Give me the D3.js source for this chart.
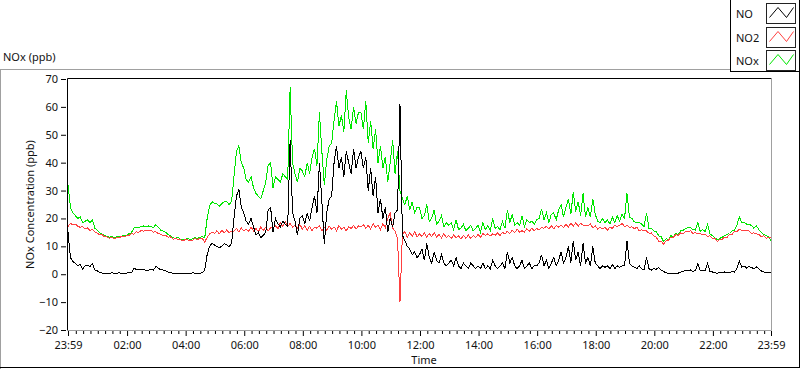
<!DOCTYPE html>
<html><head><meta charset="utf-8">
<script src="https://cdn.jsdelivr.net/npm/d3@7"></script>
<style>
html,body{margin:0;padding:0;background:#fff;}
svg text{font-family:"Noto Sans",sans-serif;font-size:11px;fill:#111;}
</style></head>
<body><svg id="c" width="800" height="369"></svg>
<script>
// ---- data (5-minute samples starting 23:59) ----
const seriesNames = ["NO", "NO2", "NOx"];
const seriesColors = ["#000000", "#ff4040", "#00e600"];
const yTicks = [-20,-10,0,10,20,30,40,50,60,70];
const xTickLabels = ["23:59","02:00","04:00","06:00","08:00","10:00","12:00","14:00","16:00","18:00","20:00","22:00","23:59"];

const NO = [
15,6,4.5,4,3,3.5,1.8,3,3.2,2.8,3.8,1.5,
1.2,0.6,0.4,0.3,0.4,0.3,0.5,0.3,0.4,0.5,0.3,0.4,
0.4,0.5,0.6,2.0,1.8,1.6,1.5,1.7,1.4,1.5,1.6,1.5,
2.8,2.2,1.6,1.5,1.2,0.8,0.5,0.4,0.3,0.4,0.3,0.4,
0.3,0.4,0.3,0.5,0.4,0.3,0.4,0.5,1.5,7,10,11,
10.5,10,9.5,10,11,10.5,9.8,11,20,28,30.5,24,
22,19,18,20,17,14,15,13,14,15,23,24,
15,20,18,17,19,18,17,48,22,19,14,20,
21,18,22,19,24,28,22,40,26,11,22,27,
28,40,46,38,42,35,44,40,36,45,38,42,
44,38,42,30,38,28,35,22,27,20,24,15,
20,17,22,23,61,14,12,10,9,7,8,6,
7,9,5,11,6,4,8,5,4,7,4,3,
4,5,3,6,3,2,4,3,2,4,3,2,
3,2,4,2,3,2,5,3,2,3,4,2,
8,4,6,3,2,3,5,2,3,4,2,3,
3,4,7,3,5,2,4,6,3,5,8,4,
6,10,4,12,5,8,3,11,4,6,3,10,
4,3,2,3,2.5,3,2,3.5,2,3,2.5,3,
3,12,4,3,2.5,2,3,2,1.5,6,2,1.5,
2,1.8,2.3,1.5,1,0.5,0.3,0.4,0.3,0.3,0.4,0.8,
1,1.3,1.2,1.5,1,1.3,3.8,1.2,1.5,1.3,4,1,
0.8,0.5,0.4,0.6,0.5,0.8,0.7,0.6,1,0.8,2,4.8,
2.5,3,2.2,2.8,2.4,2,2.6,2,1.2,0.8,0.7,0.5,
0.5];

const NO2 = [
17,18.3,17.6,18,17.2,16.8,17.1,16.2,16.6,15.7,16,15.2,
14.7,14.1,14.2,13.4,13.4,12.9,13.2,12.7,13.1,13.1,13.6,13.4,
13.8,13.9,14.5,14.4,15.2,15,15.7,15.4,15.8,15.6,15.7,15.1,
15.2,14.5,14.4,13.8,14,13.3,13.4,12.6,12.7,12.6,12.5,11.9,
12.4,12.3,12.2,12.1,13,12.3,13,12.8,11.5,13.2,14.4,15.2,
14.6,15.6,14.5,15.7,14.8,15.9,14.9,15.4,15.4,16.4,15.1,16.6,
15.6,16.2,15.4,16.9,15.5,16.4,15.2,17,15.6,16.9,15.5,16.7,
16.6,17.4,16.3,18.5,17,18.8,17.2,18.2,16.9,17.6,16.6,17.8,
16.2,17.3,15.7,17.2,15.6,16.9,16.5,17.3,15.6,16.9,15.7,17.3,
16.1,17,15.6,17.4,16.2,16.8,15.6,17.1,16.4,17.5,16.2,17.3,
17,17.8,16.5,17.6,16.2,18.1,16.8,17.6,16,18.2,16.7,20,
22,16.5,15.4,12.8,-10,14.4,15.3,13.2,14.9,13.6,15.3,13.4,
14.4,13.6,14.8,13.3,14.6,13.5,14.9,13.4,14.3,13,14.5,13.2,
13.9,12.8,14.1,13,13.8,12.6,13.9,12.9,14.1,12.8,13.9,13.2,
14.3,13.3,14.6,13.9,14.5,13.7,14.5,14,14.8,13.9,15,14.4,
15.4,14.6,15.8,14.9,16.1,15.1,15.6,15.1,16.3,15.3,16.5,15.5,
16.4,15.9,16.7,16.5,17.2,16.2,17.5,16.3,17.4,16.9,17.6,16.8,
17.9,16.8,18.3,17.2,18.5,17.2,18.2,17.6,17.6,17.4,18,16.7,
17.3,16.2,16.8,16.3,16.9,15.8,16.9,16.4,17.6,17.1,17.5,18.2,
17.1,17.5,16.8,17,16.3,16.9,15.6,15.9,15.6,15.5,14.7,14.8,
13.7,13.3,11.8,11.8,10.8,12,12.2,13.3,13.2,14.3,13.9,14.8,
14.5,15.3,15.2,15.6,14.7,14.9,14.5,14.5,14.2,14.3,13.5,13.8,
12.7,12.8,11.8,12.5,12.5,13.3,13.2,14.3,14.2,15.3,15.2,16.1,
15.7,15.8,15.5,15.5,14.7,14.8,14.5,14.3,13.5,13.8,12.9,13.2,
13];

const NOx = [
32,24,22,21,20,20.5,18.5,19,19.5,18.5,19.5,16.5,
15.7,14.8,14.4,13.8,13.6,13.3,13.5,13.1,13.4,13.7,13.7,13.9,
14,14.5,14.9,16.6,16.8,16.8,17,17.3,16.9,17.3,17.1,16.7,
17.8,16.8,15.8,15.5,15,14.3,13.7,13.2,12.8,13.2,12.6,12.4,
12.5,12.9,12.3,12.8,13.2,12.8,13.2,13.5,13,20,24.5,26,
25.5,25.2,24.3,25.3,26,26,25,26,35,44,46,40,
38,34,33,35,31,29,28,27,30,33,39,40,
31,35,34,33,36,35,34,67,40,36,33,38,
37,35,40,36,42,45,39,58,44,32,41,46,
47,55,62,53,57,51,66,56,52,60,54,58,
58,52,62,47,55,45,52,40,46,38,42,33,
40,48,36,44,30,27,25,28,23,26,22,24,
24,20,21,25,19,20,23,18,19,21,17,18.5,
17.5,18.5,16,19.5,16,16.5,18,15.5,16.5,17.5,15.5,16.5,
17.5,15,18.5,16,17.5,15.5,20,16.5,17,16,19,16.5,
23,18.5,21.5,17.5,18.5,17.5,21,17,19.5,18.5,19,18,
19.5,20,23.5,19.5,22,18.5,21.5,22,19.5,23,25,20.5,
24,27,21.5,29.5,22.5,26,21,29,20.5,24,20.5,27,
21.5,19,18.5,20,18.5,19.5,18,20.5,18.5,21,19,21.5,
20,29,20.5,20,18.8,18.5,18.5,18,17,22,16.5,16.5,
15.5,15.2,13.8,13.4,11.7,12.7,12.4,13.8,13.4,14.7,14.2,15.6,
15.8,16.3,16.7,16.7,16,15.8,18.6,15.4,16,15.3,17.8,14.5,
13.8,13,12.4,12.8,13.3,13.8,14.2,14.6,15.5,15.8,17.5,20.6,
18.5,18.5,18,18,17.4,16.5,17.4,16,15,14.3,13.9,13.5,
12];

// ---- layout ----
const svg = d3.select("#c");
const L = 68, R = 771, T = 79, B = 330;
const t0 = new Date(2020, 0, 1, 23, 59);
const t1 = new Date(2020, 0, 2, 23, 59);
const times = NO.map((_, i) => new Date(t0.getTime() + i * 5 * 60000));

const x = d3.scaleTime().domain([t0, t1]).range([L, R]);
const y = d3.scaleLinear().domain([-20, 70]).range([B, T]);

// outer panel
svg.append("line").attr("x1",0).attr("x2",731).attr("y1",69.5).attr("y2",69.5).attr("stroke","#a0a0a0");
svg.append("line").attr("x1",0.5).attr("x2",0.5).attr("y1",69.5).attr("y2",369).attr("stroke","#a0a0a0");
svg.append("line").attr("x1",0).attr("x2",800).attr("y1",367.5).attr("y2",367.5).attr("stroke","#000");
svg.append("line").attr("x1",799.5).attr("x2",799.5).attr("y1",0).attr("y2",368).attr("stroke","#000");

// title
svg.append("text").attr("x",3).attr("y",61).text("NOx (ppb)");

// plot frame
svg.append("line").attr("x1",L-0.5).attr("x2",R+0.5).attr("y1",T-0.5).attr("y2",T-0.5).attr("stroke","#000");
svg.append("line").attr("x1",L-0.5).attr("x2",L-0.5).attr("y1",T-0.5).attr("y2",B+0.5).attr("stroke","#000");
svg.append("line").attr("x1",R+0.5).attr("x2",R+0.5).attr("y1",T-0.5).attr("y2",B+0.5).attr("stroke","#a0a0a0");
svg.append("line").attr("x1",L-0.5).attr("x2",R+0.5).attr("y1",B+0.5).attr("y2",B+0.5).attr("stroke","#a0a0a0");

// y axis
const yAxis = d3.axisLeft(y).tickValues(yTicks).tickSize(5).tickPadding(3).tickFormat(d3.format("d"));
const gy = svg.append("g").attr("transform", `translate(${L-2},0)`).call(yAxis);
gy.select(".domain").remove();
gy.selectAll(".tick line").attr("stroke","#000");
gy.selectAll("text").style("font-family","Noto Sans").style("font-size","11px").attr("fill","#111");

// x axis major
const majorTimes = [t0];
for (let h = 2; h <= 22; h += 2) majorTimes.push(new Date(2020,0,2,h,0));
majorTimes.push(t1);
const xAxis = d3.axisBottom(x).tickValues(majorTimes).tickSize(5).tickPadding(5)
  .tickFormat((d,i) => xTickLabels[i]);
const gx = svg.append("g").attr("transform", `translate(0,${B+1})`).call(xAxis);
gx.select(".domain").remove();
gx.selectAll(".tick line").attr("stroke","#000");
gx.selectAll("text").style("font-family","Noto Sans").style("font-size","11px").attr("fill","#111");
// minor ticks every 15 min
const minorTimes = [];
for (let m = 15; m < 24*60; m += 15) {
  if (m % 120 === 0) continue;
  minorTimes.push(new Date(2020,0,2,0,m));
}
const xMinor = d3.axisBottom(x).tickValues(minorTimes).tickSize(3).tickFormat("");
const gxm = svg.append("g").attr("transform", `translate(0,${B+1})`).call(xMinor);
gxm.select(".domain").remove();
gxm.selectAll(".tick line").attr("stroke","#000");

// axis titles
svg.append("text").attr("x", 424).attr("y", 364).attr("text-anchor","middle").text("Time");
svg.append("text").attr("transform", `translate(34,${(T+B)/2}) rotate(-90)`).attr("text-anchor","middle").text("NOx Concentration (ppb)");

// lines
svg.append("clipPath").attr("id","pc").append("rect").attr("x",L).attr("y",T).attr("width",R-L+1).attr("height",B-T+1);
const line = d3.line().x((d,i) => x(times[i])).y(d => y(d));
const data = [NOx, NO2, NO];
const cols = [seriesColors[2], seriesColors[1], seriesColors[0]];
const gl = svg.append("g").attr("clip-path","url(#pc)");
data.forEach((s, k) => {
  gl.append("path").datum(s).attr("d", line).attr("fill","none")
    .attr("stroke", cols[k]).attr("stroke-width",1).attr("shape-rendering","crispEdges");
});

// legend
const lg = svg.append("g");
lg.append("rect").attr("x",730.5).attr("y",-1).attr("width",69).attr("height",72.5).attr("fill","#fff").attr("stroke","#000");
const rowsY = [3.5, 27.5, 50.5];
seriesNames.forEach((n, i) => {
  lg.append("text").attr("x",736).attr("y",rowsY[i]+14).text(n);
  const bx = 766.5, by = rowsY[i], bw = 29, bh = 20;
  lg.append("rect").attr("x",bx).attr("y",by).attr("width",bw).attr("height",bh).attr("fill","#fff").attr("stroke","#222");
  const pts = [[bx+3,by+14],[bx+11.5,by+4],[bx+20,by+14],[bx+27,by+4]];
  lg.append("path").attr("d", d3.line()(pts)).attr("fill","none").attr("stroke",seriesColors[i]).attr("stroke-width",1);
});
</script></body></html>
